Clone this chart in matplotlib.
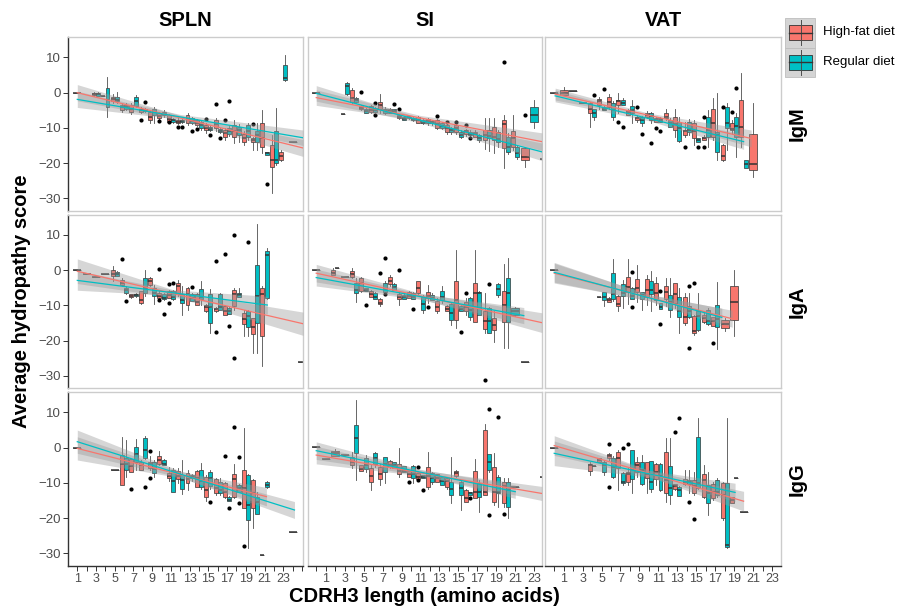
import matplotlib
matplotlib.use('Agg')
import matplotlib.pyplot as plt
import numpy as np
from matplotlib.patches import Rectangle

plt.rcParams['font.family'] = ['Liberation Sans', 'DejaVu Sans']

HF_COLOR = '#F8766D'
RD_COLOR = '#00BFC4'

tissues = ['SPLN', 'SI', 'VAT']
isotypes = ['IgM', 'IgA', 'IgG']
diet_labels = ['High-fat diet', 'Regular diet']
y_ticks = [10, 0, -10, -20, -30]
x_tick_labels = [1, 3, 5, 7, 9, 11, 13, 15, 17, 19, 21, 23]

# box rows: (CDRH3 length, lower whisker, q1, median, q3, upper whisker)
# outliers: (length, diet, value); fits: (x, y, half width of CI band)

# ---- IgM ----
SPLN_IgM_hf = [
    (1, 0, 0, 0, 0, 0), (3, -0.8, -0.6, -0.3, 0.0, 0.2), (4, -1.0, -1.0, -1.0, -1.0, -1.0),
    (5, -3.0, -2.3, -1.8, -1.3, -0.5), (6, -5.5, -4.8, -4.2, -3.5, -3.0),
    (7, -6.0, -5.4, -4.5, -3.5, -3.0), (8, -5.8, -5.4, -5.0, -4.5, -4.2),
    (9, -8.5, -7.8, -7.0, -5.4, -5.0), (10, -7.8, -7.3, -6.5, -5.9, -5.5),
    (11, -8.5, -8.2, -7.5, -6.3, -6.0), (12, -8.9, -8.7, -8.3, -7.8, -7.3),
    (13, -9.3, -8.7, -7.5, -6.3, -5.9), (14, -9.5, -9.2, -8.5, -7.8, -7.5),
    (15, -11.5, -10.6, -10.0, -9.2, -8.5), (16, -11.0, -10.1, -9.0, -7.8, -7.2),
    (17, -13.5, -12.5, -11.5, -10.6, -10.0), (18, -14.4, -12.5, -11.0, -9.2, -7.8),
    (19, -15.0, -13.9, -13.0, -11.6, -11.0), (20, -16.3, -13.9, -13.5, -13.0, -12.5),
    (21, -17.2, -15.3, -13.0, -8.7, -4.9), (22, -28.6, -21.0, -19.0, -14.9, -12.0),
    (23, -19.5, -19.1, -18.0, -16.8, -16.3), (24, -14.1, -14.1, -14.1, -14.1, -14.1),
]
SPLN_IgM_rd = [
    (3, -1.0, -0.8, -0.5, -0.2, 0.2), (4, -6.8, -4.0, -2.0, 1.2, 4.5),
    (5, -3.0, -2.5, -2.0, -1.3, 0.3), (6, -5.0, -4.5, -4.0, -3.6, -3.0),
    (7, -4.0, -3.8, -2.5, -1.1, -0.6), (8, -5.5, -5.2, -4.8, -4.5, -4.3),
    (9, -8.7, -6.3, -5.5, -4.5, -4.0), (10, -6.8, -6.3, -6.0, -5.4, -5.0),
    (11, -8.5, -8.2, -7.9, -7.6, -7.2), (12, -8.5, -8.4, -8.1, -7.9, -7.6),
    (13, -8.8, -8.5, -8.0, -7.3, -7.0), (14, -10.5, -10.1, -9.2, -8.2, -7.8),
    (15, -10.8, -10.6, -10.2, -9.7, -9.2), (16, -11.5, -11.1, -10.8, -10.4, -10.0),
    (17, -12.3, -11.6, -11.0, -10.1, -9.5), (18, -14.0, -11.9, -10.5, -9.7, -9.0),
    (19, -13.5, -12.5, -11.0, -9.2, -8.5), (20, -16.3, -13.9, -12.0, -11.0, -8.7),
    (21, -17.7, -17.7, -17.2, -16.8, -16.8), (22, -20.5, -20.0, -19.0, -11.0, -4.3),
    (23, 3.2, 3.6, 4.2, 7.9, 10.7),
]
SPLN_IgM_out = [(8, 'rd', -2.6), (8, 'hf', -7.8), (10, 'hf', -8.0), (11, 'hf', -8.2),
                (12, 'hf', -9.7), (12, 'rd', -9.7), (13, 'rd', -10.9), (14, 'hf', -10.4),
                (15, 'hf', -7.6), (15, 'rd', -12.1), (16, 'hf', -3.3), (16, 'rd', -13.0),
                (17, 'hf', -7.8), (17, 'rd', -2.3), (20, 'hf', -9.0), (21, 'rd', -25.8)]
SPLN_IgM_fit_hf = [(1, 0.0, 2.3), (12, -7.16, 0.7), (25.1, -15.7, 2.4)]
SPLN_IgM_fit_rd = [(1, -1.9, 2.3), (12, -6.88, 0.7), (25.1, -12.8, 2.2)]

SI_IgM_hf = [
    (0, -0.2, -0.2, -0.2, -0.2, -0.2), (3, -6.1, -6.1, -6.1, -6.1, -6.1),
    (4, -3.0, -2.6, -1.5, 0.9, 1.2), (5, -5.0, -4.7, -4.3, -3.9, -3.5),
    (6, -5.8, -5.4, -4.8, -3.9, -3.5), (7, -5.9, -4.5, -3.5, -2.6, -0.4),
    (8, -5.9, -5.7, -5.2, -4.7, -4.4), (9, -7.5, -7.3, -6.9, -6.3, -6.0),
    (10, -7.5, -7.3, -7.0, -6.8, -6.5), (11, -8.6, -8.5, -7.8, -6.8, -6.5),
    (12, -9.2, -8.5, -8.0, -7.6, -7.2), (13, -10.2, -9.9, -9.0, -7.8, -7.5),
    (14, -11.6, -11.1, -10.0, -9.2, -8.8), (15, -11.6, -11.1, -10.0, -9.2, -8.8),
    (16, -12.2, -11.6, -11.0, -10.6, -10.2), (17, -12.6, -12.5, -11.8, -11.1, -10.7),
    (18, -16.0, -13.4, -12.0, -10.6, -7.3), (19, -17.2, -13.4, -12.5, -9.7, -7.3),
    (20, -21.5, -15.8, -9.0, -7.8, -6.3), (21, -16.3, -15.3, -13.0, -11.0, -6.3),
    (22, -21.0, -19.1, -18.2, -15.8, -15.3), (24, -18.9, -18.9, -18.9, -18.9, -18.9),
]
SI_IgM_rd = [
    (3, -0.7, -0.4, 1.9, 2.7, 3.0), (4, -3.0, -2.6, -2.2, -1.6, -1.3),
    (5, -5.9, -5.7, -5.3, -4.7, -4.4), (6, -5.8, -5.4, -5.0, -4.4, -4.0),
    (7, -6.0, -5.7, -5.3, -4.5, -4.2), (8, -5.6, -5.5, -5.2, -4.7, -4.5),
    (9, -7.8, -7.7, -7.4, -6.8, -6.5), (10, -8.0, -7.9, -7.5, -7.3, -7.0),
    (11, -9.0, -8.7, -8.5, -7.8, -7.5), (12, -9.2, -8.7, -8.4, -8.0, -7.8),
    (13, -10.3, -9.9, -9.6, -8.7, -8.4), (14, -11.6, -11.1, -10.7, -10.1, -9.7),
    (15, -13.0, -12.5, -12.0, -11.1, -10.5), (16, -12.6, -12.1, -11.8, -11.1, -10.7),
    (17, -14.0, -13.4, -13.0, -12.1, -11.6), (18, -16.5, -12.9, -12.2, -10.6, -7.3),
    (19, -15.3, -13.9, -13.2, -11.1, -10.6), (20, -17.5, -16.8, -15.5, -12.5, -11.5),
    (21, -18.8, -18.2, -17.2, -15.3, -14.8), (23, -10.1, -8.2, -6.3, -4.0, -2.1),
]
SI_IgM_out = [(5, 'hf', 0.2), (6, 'rd', -2.8), (6, 'rd', -6.2), (8, 'rd', -3.2),
              (9, 'hf', -4.7), (13, 'hf', -6.6), (14, 'hf', -8.4), (15, 'hf', -8.2),
              (16, 'hf', -9.2), (16, 'rd', -13.0), (20, 'hf', 8.7), (22, 'hf', -6.3)]
SI_IgM_fit_hf = [(0, -1.4, 2.2), (11, -7.18, 0.7), (23.8, -13.9, 2.5)]
SI_IgM_fit_rd = [(0, -0.2, 2.2), (11, -7.87, 0.7), (23.8, -16.8, 2.5)]

VAT_IgM_hf = [
    (0, -0.2, -0.2, -0.2, -0.2, -0.2), (1, -0.7, -0.7, 0.0, 0.7, 1.5),
    (2, 0.5, 0.5, 0.5, 0.5, 0.5), (3, -3.0, -3.0, -3.0, -3.0, -3.0),
    (4, -9.7, -5.9, -4.5, -3.0, -2.6), (5, -4.5, -3.5, -2.5, -1.9, -1.1),
    (6, -4.5, -4.0, -2.6, -1.1, -0.5), (7, -5.9, -3.5, -2.5, -2.0, -0.2),
    (8, -6.3, -6.3, -5.5, -4.9, -4.5), (9, -8.2, -7.8, -7.2, -6.8, -6.3),
    (10, -7.3, -6.8, -6.3, -5.7, -5.3), (11, -8.3, -8.2, -7.7, -7.3, -7.0),
    (12, -7.8, -7.3, -6.8, -5.9, -4.5), (13, -12.5, -10.6, -9.0, -6.8, -4.5),
    (14, -12.5, -12.0, -11.0, -10.6, -8.2), (15, -14.9, -13.0, -11.0, -8.7, -7.8),
    (16, -13.5, -13.4, -13.0, -12.5, -12.0), (17, -13.5, -12.5, -8.5, -4.5, -1.6),
    (18, -19.5, -19.1, -18.0, -14.9, -14.5), (19, -11.6, -10.6, -10.2, -8.7, -7.8),
    (20, -15.3, -12.5, -9.7, -2.1, 5.5), (21, -23.9, -22.0, -20.3, -11.6, -3.0),
]
VAT_IgM_rd = [
    (4, -7.7, -6.8, -5.8, -4.7, -4.5), (5, -5.0, -4.9, -4.5, -4.0, -3.8),
    (6, -7.7, -6.8, -5.0, -3.0, -2.5), (7, -3.5, -3.5, -2.8, -2.0, -1.5),
    (8, -8.7, -5.7, -5.0, -3.8, -2.1), (9, -9.5, -8.5, -7.8, -6.8, -6.5),
    (10, -8.5, -7.7, -6.5, -5.9, -5.5), (11, -8.3, -8.2, -7.7, -7.3, -7.0),
    (12, -9.7, -9.7, -8.5, -7.8, -7.3), (13, -13.9, -13.6, -10.0, -8.2, -6.8),
    (14, -12.0, -11.1, -10.5, -8.2, -7.5), (15, -13.9, -13.9, -13.5, -13.0, -12.8),
    (16, -15.3, -12.5, -10.5, -6.8, -4.9), (17, -19.1, -16.8, -12.0, -11.1, -0.2),
    (18, -16.3, -10.1, -8.5, -4.0, -3.0), (19, -18.2, -12.5, -9.5, -6.8, -5.9),
    (20, -21.5, -21.5, -20.3, -19.1, -19.0),
]
VAT_IgM_out = [(4, 'rd', -0.7), (5, 'rd', 1.0), (7, 'hf', -8.4), (7, 'rd', -9.7),
               (9, 'hf', -4.0), (9, 'rd', -11.6), (10, 'rd', -14.4), (11, 'hf', -10.1),
               (11, 'rd', -10.8), (14, 'hf', -15.3), (15, 'rd', -15.3), (16, 'hf', -15.5),
               (16, 'hf', -6.8), (18, 'hf', -4.2), (19, 'hf', -5.4), (19, 'rd', 1.2)]
VAT_IgM_fit_hf = [(0.1, -0.4, 1.7), (10, -6.43, 0.6), (20.8, -13.0, 2.4)]
VAT_IgM_fit_rd = [(0.1, -0.9, 1.7), (10, -7.37, 0.6), (20.0, -13.9, 2.2)]

# ---- IgA ----
SPLN_IgA_hf = [
    (1, 0, 0, 0, 0, 0), (2, -1.2, -1.2, -1.2, -1.2, -1.2), (3, -1.9, -1.9, -1.9, -1.9, -1.9),
    (4, -1.2, -1.2, -1.2, -1.2, -1.2), (5, -3.1, -1.7, -1.0, 0.0, 1.1),
    (6, -4.5, -4.1, -3.5, -2.7, -2.2), (7, -7.8, -7.6, -7.2, -6.9, -6.7),
    (8, -9.7, -9.3, -8.5, -6.0, -6.0), (9, -4.5, -4.1, -3.0, -2.2, -1.8),
    (10, -8.3, -7.9, -7.2, -6.4, -6.0), (11, -8.0, -7.9, -7.0, -6.0, -5.5),
    (12, -7.3, -6.9, -4.5, -3.6, -2.7), (13, -11.2, -9.8, -6.8, -5.0, -4.7),
    (14, -9.8, -9.8, -9.0, -6.9, -6.5), (15, -11.8, -11.6, -10.5, -9.8, -9.5),
    (16, -11.8, -11.6, -11.0, -10.8, -10.5), (17, -12.6, -12.6, -11.5, -10.2, -10.0),
    (18, -11.2, -10.2, -6.8, -5.5, -5.0), (19, -18.7, -15.4, -14.0, -12.1, -11.2),
    (20, -23.5, -18.2, -16.0, -13.5, -13.5), (21, -27.3, -18.8, -6.8, -5.0, -4.5),
    (25, -26.0, -26.0, -26.0, -26.0, -26.0),
]
SPLN_IgA_rd = [
    (5, -1.7, -1.7, -1.2, -0.6, -0.3), (6, -6.8, -6.4, -5.5, -5.0, -4.5),
    (7, -7.5, -7.2, -7.0, -6.7, -6.5), (8, -7.4, -6.4, -5.0, -2.2, 0.0),
    (9, -9.7, -7.2, -6.5, -5.0, -4.1), (10, -8.4, -8.3, -7.8, -6.9, -6.5),
    (11, -8.5, -8.1, -7.5, -6.0, -5.5), (12, -12.6, -9.3, -8.5, -6.9, -4.5),
    (13, -8.8, -8.8, -8.0, -6.9, -6.5), (14, -9.8, -8.3, -7.5, -5.4, -3.2),
    (15, -17.8, -15.0, -10.5, -6.9, -5.4), (16, -11.4, -11.4, -10.5, -6.9, -6.4),
    (17, -12.4, -12.4, -11.5, -10.8, -10.4), (18, -7.5, -7.5, -7.0, -6.4, -5.0),
    (19, -18.7, -16.0, -13.0, -11.6, -11.2), (20, -23.5, -15.0, -7.2, 1.6, 13.0),
    (21, -8.3, -7.9, 4.4, 5.4, 6.4),
]
SPLN_IgA_out = [(6, 'hf', 3.3), (6, 'rd', -8.8), (10, 'hf', 0.2), (10, 'hf', -8.5),
                (10, 'rd', -12.4), (11, 'hf', -9.3), (11, 'hf', -3.8), (11, 'rd', -3.6),
                (13, 'rd', -4.7), (16, 'hf', -17.6), (16, 'hf', 2.6), (17, 'hf', 4.5),
                (17, 'rd', -15.9), (18, 'hf', 10.1), (18, 'hf', -24.9), (19, 'rd', 8.0)]
SPLN_IgA_fit_hf = [(1, -0.3, 3.5), (12, -7.1, 0.9), (25.1, -15.2, 3.3)]
SPLN_IgA_fit_rd = [(1, -2.9, 2.8), (11, -6.35, 0.8), (21.3, -9.9, 2.5)]

SI_IgA_hf = [
    (0, 0, 0, 0, 0, 0), (2, -1.5, -1.3, -0.8, 0.0, 0.6), (3, -1.9, -1.9, -1.9, -1.9, -1.9),
    (4, -2.3, -1.8, -1.0, -0.2, 0.6), (5, -6.1, -5.9, -3.5, -2.3, -1.8),
    (6, -7.5, -7.5, -6.8, -5.9, -5.5), (7, -10.3, -9.7, -9.2, -8.1, -7.8),
    (8, -4.6, -4.0, -3.0, -1.8, -1.3), (9, -9.8, -8.1, -7.5, -6.8, -6.1),
    (10, -7.8, -7.8, -7.2, -6.3, -6.0), (11, -6.8, -6.5, -5.0, -3.2, -3.0),
    (12, -9.4, -7.8, -7.2, -6.1, -4.2), (13, -12.2, -11.6, -10.5, -8.7, -8.0),
    (14, -11.6, -11.5, -11.0, -10.2, -10.0), (15, -16.5, -14.1, -8.5, -3.2, 5.8),
    (16, -12.7, -11.7, -10.5, -8.9, -7.9), (17, -14.6, -14.6, -6.5, -3.7, 5.8),
    (18, -17.9, -16.7, -14.5, -11.7, -6.5), (19, -20.3, -17.0, -15.5, -13.6, -11.7),
    (20, -22.2, -14.6, -10.0, -5.8, 1.8), (22, -26.1, -26.1, -26.1, -26.1, -26.1),
]
SI_IgA_rd = [
    (2, 0.6, 0.6, 0.6, 0.6, 0.6), (4, -8.9, -6.5, -5.5, -3.7, -2.3),
    (5, -6.0, -6.0, -5.5, -5.1, -5.0), (6, -8.3, -8.1, -7.5, -6.5, -6.2),
    (7, -6.5, -6.1, -5.3, -3.7, -3.2), (8, -5.6, -5.6, -4.8, -4.0, -3.5),
    (9, -8.1, -8.1, -7.6, -7.0, -6.5), (10, -8.2, -8.1, -7.5, -6.5, -6.2),
    (11, -12.2, -11.3, -9.5, -7.5, -7.0), (12, -8.5, -8.4, -7.8, -7.0, -6.5),
    (13, -9.4, -8.4, -7.5, -5.8, -4.4), (14, -15.5, -14.1, -12.2, -9.7, -9.4),
    (15, -11.6, -11.5, -11.0, -10.2, -10.0), (16, -14.1, -13.4, -11.3, -8.0, -7.5),
    (17, -12.7, -12.7, -6.5, -6.3, -6.0), (18, -17.9, -17.9, -14.5, -10.8, -10.5),
    (19, -7.5, -7.0, -5.3, -4.0, -3.5), (20, -22.2, -14.6, -6.5, -2.3, 3.4),
    (21, -13.0, -12.7, -11.5, -10.8, -10.5),
]
SI_IgA_out = [(5, 'rd', -9.8), (7, 'hf', -0.7), (7, 'rd', 3.6), (7, 'rd', -6.7),
              (9, 'hf', 0.0), (10, 'rd', -11.0), (12, 'hf', -10.6), (15, 'rd', -17.6),
              (16, 'hf', -6.5), (18, 'rd', -4.0), (18, 'hf', -31.3)]
SI_IgA_fit_hf = [(0, -0.85, 2.5), (11, -7.34, 0.8), (23.8, -14.9, 2.8)]
SI_IgA_fit_rd = [(0, -2.1, 2.4), (11, -7.52, 0.8), (21.9, -12.9, 2.3)]

VAT_IgA_hf = [
    (0, 0, 0, 0, 0, 0), (5, -7.5, -7.5, -7.5, -7.5, -7.5),
    (6, -9.1, -9.1, -8.6, -7.8, -7.5), (7, -11.7, -10.3, -9.5, -7.2, -7.0),
    (8, -9.7, -6.1, -4.8, -2.0, 3.2), (9, -8.9, -6.1, -5.0, -2.6, 1.5),
    (10, -9.8, -7.5, -5.5, -2.6, -1.3), (11, -9.8, -8.4, -6.5, -3.7, -1.8),
    (12, -10.3, -8.1, -6.2, -4.5, -2.3), (13, -10.8, -9.4, -6.8, -3.7, -3.7),
    (14, -15.5, -15.0, -13.4, -7.5, -6.5), (15, -18.4, -17.9, -17.3, -12.9, -12.7),
    (16, -15.1, -14.6, -13.5, -12.7, -11.7), (17, -15.8, -15.8, -14.5, -13.4, -13.2),
    (18, -17.4, -16.3, -15.3, -14.1, -13.6), (19, -18.6, -14.1, -9.1, -4.4, 0.1),
]
VAT_IgA_rd = [
    (5, -10.2, -8.4, -7.5, -6.3, -6.1), (6, -8.7, -8.1, -6.8, -0.9, 3.2),
    (7, -10.8, -7.2, -6.5, -4.0, -2.7), (8, -8.3, -8.1, -7.2, -5.0, -4.8),
    (9, -11.4, -8.1, -7.0, -6.1, -6.1), (10, -11.6, -6.8, -5.5, -3.0, -0.2),
    (11, -11.0, -11.0, -10.5, -9.4, -9.2), (12, -13.2, -11.3, -9.0, -7.1, -2.1),
    (13, -17.9, -13.2, -11.5, -7.5, -5.1), (14, -13.6, -13.2, -11.5, -10.3, -6.5),
    (15, -17.3, -17.0, -13.0, -11.7, -6.5), (16, -15.5, -15.3, -14.5, -11.3, -10.8),
    (17, -22.3, -16.0, -14.0, -10.0, -3.4),
]
VAT_IgA_out = [(8, 'rd', -0.6), (8, 'rd', -10.6), (11, 'rd', -5.9), (11, 'rd', -15.3),
               (14, 'rd', -4.4), (14, 'rd', -22.2), (15, 'hf', -3.5), (17, 'hf', -20.7)]
VAT_IgA_fit_hf = [(0, -0.85, 2.8), (10, -7.74, 0.9), (18.8, -13.8, 2.4)]
VAT_IgA_fit_rd = [(0, -0.6, 2.8), (10, -7.83, 0.9), (17.7, -13.4, 2.6)]

# ---- IgG ----
SPLN_IgG_hf = [
    (1, 0, 0, 0, 0, 0), (5, -6.2, -6.2, -6.2, -6.2, -6.2),
    (6, -10.6, -10.6, -4.5, -2.1, 3.1), (7, -6.8, -6.8, -5.1, -3.3, -3.3),
    (8, -6.3, -6.3, -5.0, -4.0, -3.5), (9, -6.3, -5.9, -4.5, -4.0, -2.5),
    (10, -4.9, -4.6, -3.5, -2.4, -0.9), (11, -9.6, -8.7, -8.0, -7.3, -5.4),
    (12, -10.1, -9.0, -8.0, -6.5, -5.9), (13, -12.0, -9.9, -8.8, -7.3, -6.3),
    (14, -11.1, -11.1, -8.5, -6.5, -6.2), (15, -15.1, -13.9, -12.0, -8.2, -7.7),
    (16, -13.4, -13.0, -11.5, -9.0, -8.7), (17, -14.4, -13.9, -12.5, -10.1, -9.7),
    (18, -14.4, -13.9, -9.0, -7.5, -4.5), (19, -17.2, -17.2, -11.5, -6.2, 5.5),
    (20, -22.9, -17.2, -12.9, -9.2, -8.8), (21, -30.5, -30.5, -30.5, -30.5, -30.5),
    (24, -23.9, -23.9, -23.9, -23.9, -23.9),
]
SPLN_IgG_rd = [
    (6, -8.2, -6.2, -4.5, -3.0, 2.1), (7, -6.3, -4.0, -1.8, 0.3, 2.6),
    (8, -3.3, -3.0, -0.7, 2.7, 3.3), (9, -8.2, -7.1, -6.0, -4.0, -3.5),
    (10, -4.9, -4.9, -4.5, -3.5, -3.3), (11, -12.5, -12.5, -9.5, -6.2, -5.9),
    (12, -13.2, -11.8, -9.3, -7.8, -3.5), (13, -9.5, -8.7, -8.2, -7.8, -7.5),
    (14, -11.6, -11.1, -9.5, -6.2, -4.4), (15, -11.6, -10.9, -8.5, -6.8, -6.3),
    (16, -13.4, -13.0, -12.0, -9.7, -8.7), (17, -15.1, -15.1, -14.8, -13.9, -13.7),
    (18, -12.5, -12.5, -11.5, -10.6, -10.3), (19, -28.6, -20.5, -16.3, -7.8, -7.6),
    (20, -18.7, -18.7, -15.5, -13.9, -12.5), (21, -11.5, -11.3, -10.5, -9.7, -9.5),
]
SPLN_IgG_out = [(7, 'hf', -11.6), (8, 'rd', -11.1), (9, 'hf', -0.9), (9, 'hf', -8.7),
                (15, 'rd', -15.5), (17, 'hf', -2.4), (17, 'rd', -17.2), (18, 'rd', -2.6),
                (18, 'rd', -15.8), (18, 'hf', 5.8), (19, 'hf', -27.9)]
SPLN_IgG_fit_hf = [(1, -0.2, 3.3), (12, -7.66, 0.9), (21.2, -13.9, 2.6)]
SPLN_IgG_fit_rd = [(1, 1.7, 3.3), (12, -7.5, 0.9), (24.2, -17.7, 2.4)]

SI_IgG_hf = [
    (0, 0.2, 0.2, 0.2, 0.2, 0.2), (1, -3.2, -3.2, -3.2, -3.2, -3.2),
    (2, -2.5, -2.3, -1.5, -0.9, -0.3), (3, -2.1, -2.1, -2.1, -2.1, -2.1),
    (4, -5.8, -4.9, -4.2, -2.6, -1.1), (5, -6.6, -6.6, -6.0, -4.9, -4.9),
    (6, -12.0, -9.7, -8.0, -5.7, -4.9), (7, -10.6, -8.9, -7.5, -5.4, -4.5),
    (8, -5.9, -5.4, -4.8, -3.8, -3.5), (9, -8.2, -7.6, -6.6, -4.5, 0.0),
    (10, -8.2, -8.2, -7.5, -6.6, -6.6), (11, -8.9, -8.9, -8.2, -7.3, -7.3),
    (12, -11.6, -11.1, -8.0, -5.4, -1.1), (13, -9.7, -9.7, -8.5, -7.6, -7.6),
    (14, -11.6, -11.1, -9.5, -8.7, -8.2), (15, -8.2, -8.0, -7.2, -6.6, -6.3),
    (16, -15.5, -15.3, -14.4, -12.0, -11.7), (17, -14.4, -14.2, -12.7, -6.6, -3.2),
    (18, -13.4, -13.4, -12.5, 5.0, 6.8), (19, -16.3, -15.3, -12.5, -5.4, -1.6),
    (20, -16.8, -15.8, -11.0, -9.8, -8.7), (21, -11.3, -11.3, -11.3, -11.3, -11.3),
    (24, -8.2, -8.2, -8.2, -8.2, -8.2),
]
SI_IgG_rd = [
    (4, -9.2, -1.6, 2.7, 6.4, 13.5), (5, -6.8, -6.1, -5.0, -2.8, -2.1),
    (6, -5.4, -4.5, -2.8, -1.6, -1.1), (7, -10.1, -6.8, -4.5, -2.6, -2.6),
    (8, -5.9, -5.9, -5.0, -4.2, -4.2), (9, -7.0, -7.0, -6.5, -5.1, -5.1),
    (10, -10.1, -8.7, -7.5, -5.1, -5.0), (11, -8.7, -8.7, -8.2, -7.8, -7.8),
    (12, -10.4, -9.7, -8.5, -7.3, -7.0), (13, -10.6, -10.6, -9.5, -8.2, -8.2),
    (14, -15.8, -13.4, -11.7, -9.7, -2.6), (15, -17.7, -13.4, -11.5, -9.8, -9.6),
    (16, -13.4, -13.4, -13.0, -12.5, -12.5), (17, -18.2, -13.9, -12.7, -10.1, -9.2),
    (18, -6.8, -6.3, -4.2, -1.9, -1.9), (19, -16.8, -13.0, -12.5, -8.2, -7.8),
    (20, -20.0, -16.8, -12.0, -9.8, -8.7),
]
SI_IgG_out = [(10, 'hf', -9.8), (11, 'hf', -5.4), (11, 'hf', -9.2), (11, 'rd', -12.0),
              (16, 'rd', -14.4), (18, 'rd', 11.0), (18, 'rd', -19.1), (19, 'rd', 8.8),
              (20, 'hf', -18.9)]
SI_IgG_fit_hf = [(0, -2.1, 2.5), (11, -7.14, 0.8), (23.8, -13.0, 2.0)]
SI_IgG_fit_rd = [(0, -0.85, 2.5), (11, -6.95, 0.8), (21.0, -12.5, 1.9)]

VAT_IgG_hf = [
    (0, 0, 0, 0, 0, 0), (4, -7.7, -6.6, -5.0, -4.5, -4.0),
    (5, -4.2, -4.2, -3.5, -2.8, -2.8), (6, -3.5, -2.8, -2.3, -1.9, -1.6),
    (7, -12.0, -5.9, -3.0, -1.1, -0.6), (8, -10.6, -9.8, -7.6, -7.0, -5.9),
    (9, -8.2, -6.8, -5.0, -4.2, -2.6), (10, -12.9, -8.7, -7.5, -4.2, -4.0),
    (11, -10.6, -8.9, -7.0, -4.7, -4.4), (12, -15.3, -13.0, -9.2, -1.1, 2.7),
    (13, -12.0, -11.7, -11.0, -10.4, -10.2), (14, -10.6, -10.4, -9.7, -8.9, -6.4),
    (15, -13.3, -13.0, -11.0, -9.2, -6.8), (16, -14.4, -13.9, -9.3, -7.6, -4.9),
    (17, -14.9, -14.4, -12.5, -10.4, -9.7), (18, -20.6, -20.1, -13.5, -10.1, -9.7),
    (19, -15.8, -15.8, -15.0, -13.9, -13.9), (20, -18.4, -18.4, -18.4, -18.4, -18.4),
]
VAT_IgG_rd = [
    (4, -5.3, -5.3, -5.3, -5.3, -5.3), (5, -7.8, -6.8, -5.0, -4.2, -3.5),
    (6, -8.7, -8.2, -5.5, -2.8, -2.5), (7, -10.6, -10.1, -9.8, -7.3, -6.8),
    (8, -13.0, -8.9, -6.0, -0.7, -0.7), (9, -10.6, -10.4, -6.3, -4.0, -2.1),
    (10, -12.5, -11.6, -9.7, -3.8, -3.8), (11, -12.3, -12.0, -8.0, -4.7, -4.4),
    (12, -16.0, -13.3, -11.5, -5.1, 2.7), (13, -13.8, -13.6, -12.0, -11.1, -10.8),
    (14, -13.0, -10.4, -9.8, -9.2, -6.4), (15, -11.6, -11.4, -10.1, 3.1, 8.3),
    (16, -19.1, -15.8, -13.0, -10.6, -6.8), (17, -13.9, -13.4, -12.5, -9.2, -8.7),
    (18, -28.4, -28.1, -27.7, -10.1, 8.3), (19, -8.7, -8.7, -8.7, -8.7, -8.7),
]
VAT_IgG_out = [(6, 'hf', 1.0), (6, 'hf', -11.1), (7, 'rd', -0.2), (8, 'hf', 1.0),
               (13, 'hf', 4.4), (13, 'rd', 8.3), (14, 'rd', -15.5), (15, 'hf', -20.4)]
VAT_IgG_fit_hf = [(0, 0.6, 2.8), (10, -7.3, 0.9), (20.0, -15.2, 2.8)]
VAT_IgG_fit_rd = [(0, -1.6, 3.5), (10, -7.41, 1.0), (19.1, -12.7, 2.6)]

panels = {
    ('IgM', 'SPLN'): (SPLN_IgM_hf, SPLN_IgM_rd, SPLN_IgM_out, SPLN_IgM_fit_hf, SPLN_IgM_fit_rd),
    ('IgM', 'SI'): (SI_IgM_hf, SI_IgM_rd, SI_IgM_out, SI_IgM_fit_hf, SI_IgM_fit_rd),
    ('IgM', 'VAT'): (VAT_IgM_hf, VAT_IgM_rd, VAT_IgM_out, VAT_IgM_fit_hf, VAT_IgM_fit_rd),
    ('IgA', 'SPLN'): (SPLN_IgA_hf, SPLN_IgA_rd, SPLN_IgA_out, SPLN_IgA_fit_hf, SPLN_IgA_fit_rd),
    ('IgA', 'SI'): (SI_IgA_hf, SI_IgA_rd, SI_IgA_out, SI_IgA_fit_hf, SI_IgA_fit_rd),
    ('IgA', 'VAT'): (VAT_IgA_hf, VAT_IgA_rd, VAT_IgA_out, VAT_IgA_fit_hf, VAT_IgA_fit_rd),
    ('IgG', 'SPLN'): (SPLN_IgG_hf, SPLN_IgG_rd, SPLN_IgG_out, SPLN_IgG_fit_hf, SPLN_IgG_fit_rd),
    ('IgG', 'SI'): (SI_IgG_hf, SI_IgG_rd, SI_IgG_out, SI_IgG_fit_hf, SI_IgG_fit_rd),
    ('IgG', 'VAT'): (VAT_IgG_hf, VAT_IgG_rd, VAT_IgG_out, VAT_IgG_fit_hf, VAT_IgG_fit_rd),
}

# free x range per tissue column
x_limits = {'SPLN': (0.04, 25.11), 'SI': (-0.92, 23.82), 'VAT': (-0.94, 23.95)}
y_limits = (-33.47, 15.82)

DODGE = 0.225
BOX_W = 0.42
SINGLE_W = 0.85


def place(rows, other, sign):
    # dodge when both diets have that length, else one full-width box
    other_lengths = {r[0] for r in other}
    pos, wid = [], []
    for r in rows:
        if r[0] in other_lengths:
            pos.append(r[0] + sign * DODGE)
            wid.append(BOX_W)
        else:
            pos.append(r[0])
            wid.append(SINGLE_W)
    return pos, wid


def draw_panel(ax, hf, rd, out, fit_hf, fit_rd):
    for rows, other, sign, color in [(hf, rd, -1, HF_COLOR), (rd, hf, 1, RD_COLOR)]:
        stats = [dict(whislo=r[1], q1=r[2], med=r[3], q3=r[4], whishi=r[5], fliers=[])
                 for r in rows]
        pos, wid = place(rows, other, sign)
        ax.bxp(stats, positions=pos, widths=wid, patch_artist=True,
               showfliers=False, showcaps=False, manage_ticks=False,
               boxprops=dict(facecolor=color, edgecolor='#333333', linewidth=0.5),
               medianprops=dict(color='#333333', linewidth=1.1),
               whiskerprops=dict(color='#4D4D4D', linewidth=0.6),
               zorder=2)

    hf_len = {r[0] for r in hf}
    rd_len = {r[0] for r in rd}
    ox, oy = [], []
    for length, diet, val in out:
        both = length in hf_len and length in rd_len
        shift = (-DODGE if diet == 'hf' else DODGE) if both else 0
        ox.append(length + shift)
        oy.append(val)
    ax.plot(ox, oy, 'o', color='black', ms=3.0, mew=0, zorder=3)

    for fit, color in [(fit_hf, HF_COLOR), (fit_rd, RD_COLOR)]:
        fx = np.array([p[0] for p in fit])
        fy = np.array([p[1] for p in fit])
        fw = np.array([p[2] for p in fit])
        ax.fill_between(fx, fy - fw, fy + fw, color='#999999', alpha=0.4, lw=0, zorder=4)
        ax.plot(fx, fy, color=color, lw=0.9, zorder=5)


W, H = 899, 613
fig = plt.figure(figsize=(W / 100, H / 100), dpi=100)

col_left = [68.3, 307.5, 545.3]
col_w = [234.7, 234.5, 235.7]
row_top = [37, 214.5, 392]
row_h = 173.5

for i, iso in enumerate(isotypes):
    for j, tis in enumerate(tissues):
        ax = fig.add_axes([col_left[j] / W, 1 - (row_top[i] + row_h) / H,
                           col_w[j] / W, row_h / H])
        draw_panel(ax, *panels[(iso, tis)])
        ax.set_xlim(*x_limits[tis])
        ax.set_ylim(*y_limits)
        for sp in ax.spines.values():
            sp.set_color('#CCCCCC')
            sp.set_linewidth(1.0)
        ax.tick_params(direction='out', length=3.5, width=0.7, color='#333333',
                       labelsize=9.5, labelcolor='#4D4D4D', pad=2)
        if j == 0:
            ax.spines['left'].set_color('#333333')
            ax.set_yticks(y_ticks)
            ax.set_yticklabels([f'{t}'.replace('-', '\u2212') for t in y_ticks])
        else:
            ax.set_yticks([])
        if i == 2:
            ax.spines['bottom'].set_color('#333333')
            lo, hi = x_limits[tis]
            ticks = list(range(int(np.ceil(lo)), int(np.floor(hi)) + 1))
            ax.set_xticks(ticks)
            ax.set_xticklabels([str(t) if t in x_tick_labels else '' for t in ticks])
            ax.tick_params(axis='x', labelsize=9)
        else:
            ax.set_xticks([])

# strip labels
for j, tis in enumerate(tissues):
    cx = (col_left[j] + col_w[j] / 2) / W
    fig.text(cx, 1 - 20 / H, tis, ha='center', va='center', fontsize=14.5, fontweight='bold')
for i, iso in enumerate(isotypes):
    cy = 1 - (row_top[i] + row_h / 2) / H
    fig.text(797 / W, cy, iso, ha='center', va='center', rotation=90,
             fontsize=14.5, fontweight='bold')

fig.text(22 / W, 1 - 301 / H, 'Average hydropathy score', rotation=90,
         ha='center', va='center', fontsize=14.5, fontweight='bold')
fig.text(424.7 / W, 1 - 597 / H, 'CDRH3 length (amino acids)',
         ha='center', va='center', fontsize=14.5, fontweight='bold')

# legend keys drawn in a small pixel-unit axes
lax = fig.add_axes([783 / W, 1 - 80 / H, 116 / W, 66 / H])
lax.set_xlim(0, 116)
lax.set_ylim(66, 0)
lax.axis('off')
for k, (lab, col) in enumerate(zip(diet_labels, [HF_COLOR, RD_COLOR])):
    y0 = 4 + 29.5 * k
    lax.add_patch(Rectangle((2, y0), 30, 29.5, facecolor='#D4D4D4', edgecolor='#BDBDBD', lw=0.6))
    lax.plot([17.5, 17.5], [y0 + 2, y0 + 27], color='#4D4D4D', lw=0.7)
    lax.add_patch(Rectangle((6, y0 + 7), 23, 15, facecolor=col, edgecolor='#333333', lw=0.6))
    lax.plot([6, 29], [y0 + 14.5, y0 + 14.5], color='#333333', lw=1.0)
    lax.text(40, y0 + 14.5, lab, ha='left', va='center', fontsize=9.5)

fig.savefig('out.png', dpi=100)
